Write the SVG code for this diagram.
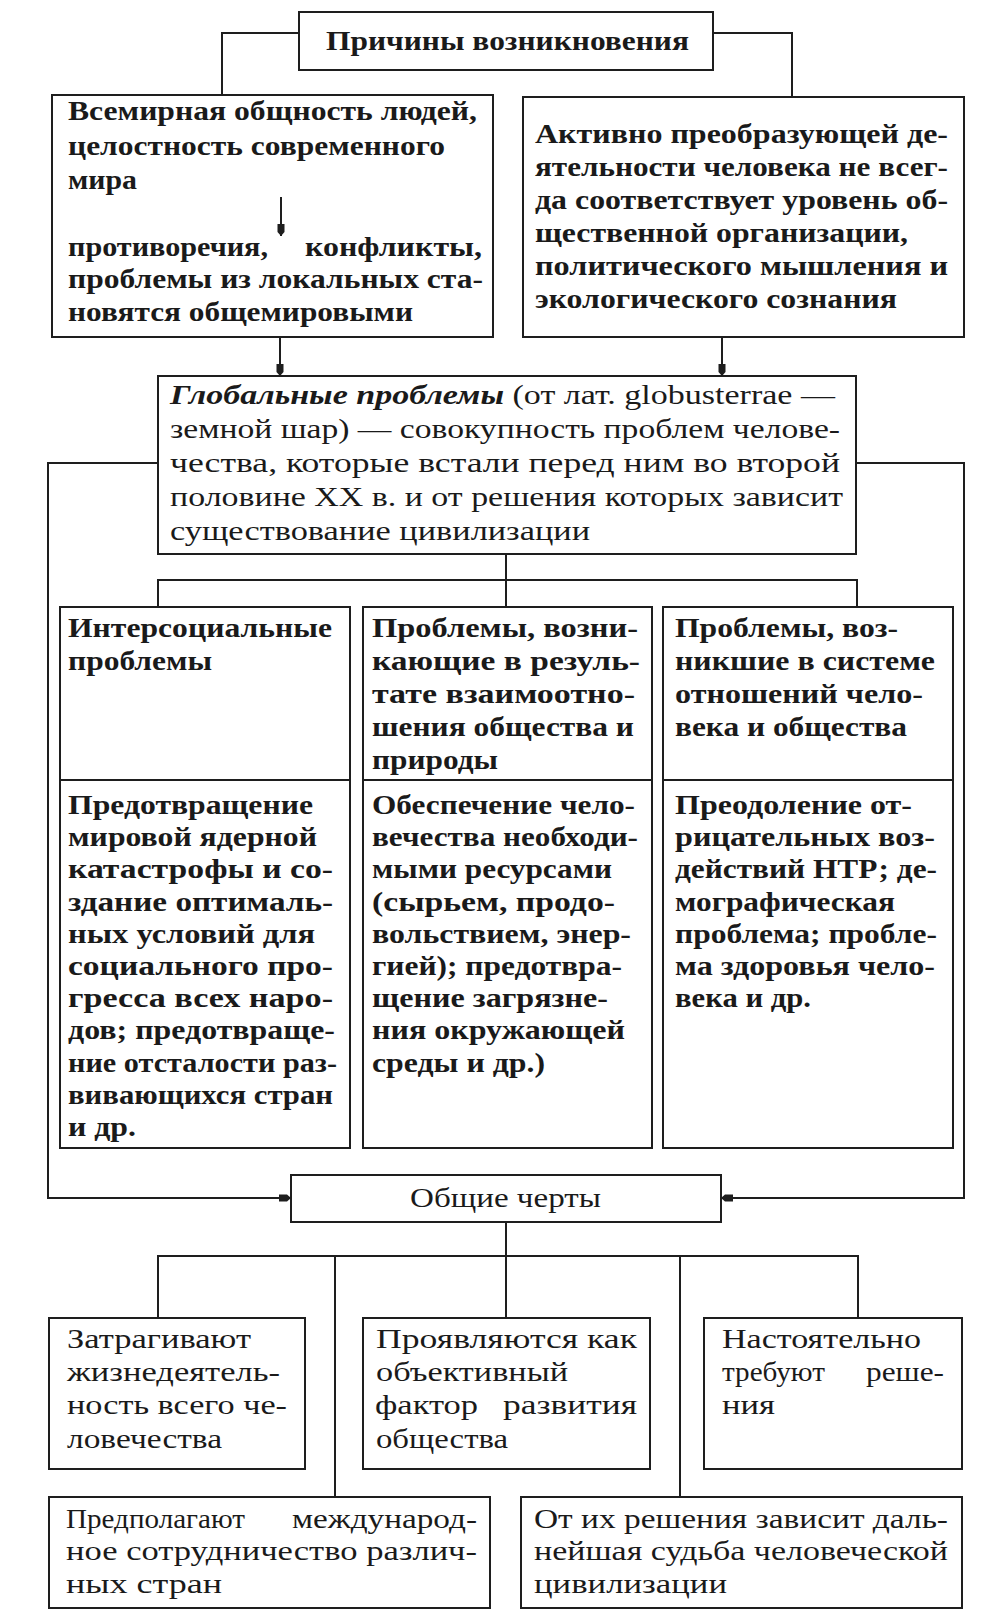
<svg xmlns="http://www.w3.org/2000/svg" width="995" height="1616" viewBox="0 0 995 1616">
<style>
.b{fill:#fff;stroke:#1e1e1e;stroke-width:2}
.c{fill:none;stroke:#1e1e1e;stroke-width:2}
.t{font-family:"Liberation Serif","Times New Roman",serif;font-size:27px;font-weight:bold;fill:#1a1a1a}
.r{font-family:"Liberation Serif","Times New Roman",serif;font-size:28px;fill:#1a1a1a}
</style>
<defs>
<marker id="ah" viewBox="0 0 12 10" refX="12" refY="5" markerWidth="12" markerHeight="10" markerUnits="userSpaceOnUse" orient="auto">
<path d="M0,1.5 L8,1.5 L12,5 L8,8.5 L0,8.5 z" fill="#1e1e1e"/>
</marker>
</defs>
<rect width="995" height="1616" fill="#fff"/>
<g id="title">
<rect class="b" x="299" y="12" width="414" height="58"/>
<text class="t" x="326" y="50" textLength="363" lengthAdjust="spacingAndGlyphs">Причины возникновения</text>
</g>
<g id="cause-left">
<rect class="b" x="52" y="95" width="441" height="242"/>
<text class="t" x="68" y="120" textLength="409" lengthAdjust="spacingAndGlyphs">Всемирная общность людей,</text>
<text class="t" x="68" y="155" textLength="377" lengthAdjust="spacingAndGlyphs">целостность современного</text>
<text class="t" x="68" y="189" textLength="69" lengthAdjust="spacingAndGlyphs">мира</text>
<text class="t" x="68" y="256" textLength="200" lengthAdjust="spacingAndGlyphs">противоречия,</text>
<text class="t" x="305" y="256" textLength="177" lengthAdjust="spacingAndGlyphs">конфликты,</text>
<text class="t" x="68" y="288" textLength="415" lengthAdjust="spacingAndGlyphs">проблемы из локальных ста-</text>
<text class="t" x="68" y="321" textLength="345" lengthAdjust="spacingAndGlyphs">новятся общемировыми</text>
</g>
<g id="cause-right">
<rect class="b" x="523" y="97" width="441" height="240"/>
<text class="t" x="535" y="143" textLength="413" lengthAdjust="spacingAndGlyphs">Активно преобразующей де-</text>
<text class="t" x="535" y="176" textLength="413" lengthAdjust="spacingAndGlyphs">ятельности человека не всег-</text>
<text class="t" x="535" y="209" textLength="413" lengthAdjust="spacingAndGlyphs">да соответствует уровень об-</text>
<text class="t" x="535" y="242" textLength="373" lengthAdjust="spacingAndGlyphs">щественной организации,</text>
<text class="t" x="535" y="275" textLength="413" lengthAdjust="spacingAndGlyphs">политического мышления и</text>
<text class="t" x="535" y="308" textLength="362" lengthAdjust="spacingAndGlyphs">экологического сознания</text>
</g>
<g id="global">
<rect class="b" x="158" y="376" width="698" height="178"/>
<text class="r" x="170" y="404" textLength="665" lengthAdjust="spacingAndGlyphs"><tspan font-weight="bold" font-style="italic">Глобальные проблемы</tspan> (от лат. globusterrae —</text>
<text class="r" x="170" y="438" textLength="670" lengthAdjust="spacingAndGlyphs">земной шар) — совокупность проблем челове-</text>
<text class="r" x="170" y="472" textLength="670" lengthAdjust="spacingAndGlyphs">чества, которые встали перед ним во второй</text>
<text class="r" x="170" y="506" textLength="673" lengthAdjust="spacingAndGlyphs">половине XX в. и от решения которых зависит</text>
<text class="r" x="170" y="540" textLength="420" lengthAdjust="spacingAndGlyphs">существование цивилизации</text>
</g>
<g id="col1">
<rect class="b" x="60" y="607" width="290" height="541"/>
<line class="c" x1="60" y1="780" x2="350" y2="780"/>
<text class="t" x="68" y="637" textLength="264" lengthAdjust="spacingAndGlyphs">Интерсоциальные</text>
<text class="t" x="68" y="670" textLength="144" lengthAdjust="spacingAndGlyphs">проблемы</text>
<text class="t" x="68" y="814" textLength="245" lengthAdjust="spacingAndGlyphs">Предотвращение</text>
<text class="t" x="68" y="846" textLength="249" lengthAdjust="spacingAndGlyphs">мировой ядерной</text>
<text class="t" x="68" y="878" textLength="265" lengthAdjust="spacingAndGlyphs">катастрофы и со-</text>
<text class="t" x="68" y="911" textLength="265" lengthAdjust="spacingAndGlyphs">здание оптималь-</text>
<text class="t" x="68" y="943" textLength="247" lengthAdjust="spacingAndGlyphs">ных условий для</text>
<text class="t" x="68" y="975" textLength="265" lengthAdjust="spacingAndGlyphs">социального про-</text>
<text class="t" x="68" y="1007" textLength="265" lengthAdjust="spacingAndGlyphs">гресса всех наро-</text>
<text class="t" x="68" y="1039" textLength="267" lengthAdjust="spacingAndGlyphs">дов; предотвраще-</text>
<text class="t" x="68" y="1072" textLength="269" lengthAdjust="spacingAndGlyphs">ние отсталости раз-</text>
<text class="t" x="68" y="1104" textLength="265" lengthAdjust="spacingAndGlyphs">вивающихся стран</text>
<text class="t" x="68" y="1136" textLength="68" lengthAdjust="spacingAndGlyphs">и др.</text>
</g>
<g id="col2">
<rect class="b" x="363" y="607" width="289" height="541"/>
<line class="c" x1="363" y1="780" x2="652" y2="780"/>
<text class="t" x="372" y="637" textLength="266" lengthAdjust="spacingAndGlyphs">Проблемы, возни-</text>
<text class="t" x="372" y="670" textLength="268" lengthAdjust="spacingAndGlyphs">кающие в резуль-</text>
<text class="t" x="372" y="703" textLength="263" lengthAdjust="spacingAndGlyphs">тате взаимоотно-</text>
<text class="t" x="372" y="736" textLength="262" lengthAdjust="spacingAndGlyphs">шения общества и</text>
<text class="t" x="372" y="769" textLength="126" lengthAdjust="spacingAndGlyphs">природы</text>
<text class="t" x="372" y="814" textLength="263" lengthAdjust="spacingAndGlyphs">Обеспечение чело-</text>
<text class="t" x="372" y="846" textLength="266" lengthAdjust="spacingAndGlyphs">вечества необходи-</text>
<text class="t" x="372" y="878" textLength="240" lengthAdjust="spacingAndGlyphs">мыми ресурсами</text>
<text class="t" x="372" y="911" textLength="243" lengthAdjust="spacingAndGlyphs">(сырьем, продо-</text>
<text class="t" x="372" y="943" textLength="259" lengthAdjust="spacingAndGlyphs">вольствием, энер-</text>
<text class="t" x="372" y="975" textLength="250" lengthAdjust="spacingAndGlyphs">гией); предотвра-</text>
<text class="t" x="372" y="1007" textLength="236" lengthAdjust="spacingAndGlyphs">щение загрязне-</text>
<text class="t" x="372" y="1039" textLength="253" lengthAdjust="spacingAndGlyphs">ния окружающей</text>
<text class="t" x="372" y="1072" textLength="173" lengthAdjust="spacingAndGlyphs">среды и др.)</text>
</g>
<g id="col3">
<rect class="b" x="663" y="607" width="290" height="541"/>
<line class="c" x1="663" y1="780" x2="953" y2="780"/>
<text class="t" x="675" y="637" textLength="223" lengthAdjust="spacingAndGlyphs">Проблемы, воз-</text>
<text class="t" x="675" y="670" textLength="260" lengthAdjust="spacingAndGlyphs">никшие в системе</text>
<text class="t" x="675" y="703" textLength="248" lengthAdjust="spacingAndGlyphs">отношений чело-</text>
<text class="t" x="675" y="736" textLength="232" lengthAdjust="spacingAndGlyphs">века и общества</text>
<text class="t" x="675" y="814" textLength="237" lengthAdjust="spacingAndGlyphs">Преодоление от-</text>
<text class="t" x="675" y="846" textLength="260" lengthAdjust="spacingAndGlyphs">рицательных воз-</text>
<text class="t" x="675" y="878" textLength="262" lengthAdjust="spacingAndGlyphs">действий НТР; де-</text>
<text class="t" x="675" y="911" textLength="220" lengthAdjust="spacingAndGlyphs">мографическая</text>
<text class="t" x="675" y="943" textLength="262" lengthAdjust="spacingAndGlyphs">проблема; пробле-</text>
<text class="t" x="675" y="975" textLength="260" lengthAdjust="spacingAndGlyphs">ма здоровья чело-</text>
<text class="t" x="675" y="1007" textLength="136" lengthAdjust="spacingAndGlyphs">века и др.</text>
</g>
<g id="common">
<rect class="b" x="291" y="1175" width="430" height="47"/>
<text class="r" x="410" y="1207" textLength="191" lengthAdjust="spacingAndGlyphs">Общие черты</text>
</g>
<g id="feat1">
<rect class="b" x="49" y="1318" width="256" height="151"/>
<text class="r" x="67" y="1348" textLength="184" lengthAdjust="spacingAndGlyphs">Затрагивают</text>
<text class="r" x="67" y="1381" textLength="213" lengthAdjust="spacingAndGlyphs">жизнедеятель-</text>
<text class="r" x="67" y="1414" textLength="220" lengthAdjust="spacingAndGlyphs">ность всего че-</text>
<text class="r" x="67" y="1448" textLength="155" lengthAdjust="spacingAndGlyphs">ловечества</text>
</g>
<g id="feat2">
<rect class="b" x="363" y="1318" width="287" height="151"/>
<text class="r" x="376" y="1348" textLength="261" lengthAdjust="spacingAndGlyphs">Проявляются как</text>
<text class="r" x="376" y="1381" textLength="192" lengthAdjust="spacingAndGlyphs">объективный</text>
<text class="r" x="375" y="1414" textLength="103" lengthAdjust="spacingAndGlyphs">фактор</text>
<text class="r" x="503" y="1414" textLength="134" lengthAdjust="spacingAndGlyphs">развития</text>
<text class="r" x="376" y="1448" textLength="132" lengthAdjust="spacingAndGlyphs">общества</text>
</g>
<g id="feat3">
<rect class="b" x="704" y="1318" width="258" height="151"/>
<text class="r" x="722" y="1348" textLength="199" lengthAdjust="spacingAndGlyphs">Настоятельно</text>
<text class="r" x="722" y="1381" textLength="103" lengthAdjust="spacingAndGlyphs">требуют</text>
<text class="r" x="866" y="1381" textLength="78" lengthAdjust="spacingAndGlyphs">реше-</text>
<text class="r" x="722" y="1414" textLength="53" lengthAdjust="spacingAndGlyphs">ния</text>
</g>
<g id="feat4">
<rect class="b" x="49" y="1497" width="441" height="111"/>
<text class="r" x="66" y="1528" textLength="179" lengthAdjust="spacingAndGlyphs">Предполагают</text>
<text class="r" x="292" y="1528" textLength="185" lengthAdjust="spacingAndGlyphs">международ-</text>
<text class="r" x="66" y="1560" textLength="411" lengthAdjust="spacingAndGlyphs">ное сотрудничество различ-</text>
<text class="r" x="66" y="1593" textLength="156" lengthAdjust="spacingAndGlyphs">ных стран</text>
</g>
<g id="feat5">
<rect class="b" x="521" y="1497" width="441" height="111"/>
<text class="r" x="534" y="1528" textLength="414" lengthAdjust="spacingAndGlyphs">От их решения зависит даль-</text>
<text class="r" x="534" y="1560" textLength="414" lengthAdjust="spacingAndGlyphs">нейшая судьба человеческой</text>
<text class="r" x="534" y="1593" textLength="193" lengthAdjust="spacingAndGlyphs">цивилизации</text>
</g>
<g id="connectors">
<polyline class="c" points="299,33 222,33 222,95"/>
<polyline class="c" points="713,33 792,33 792,97"/>
<line class="c" x1="281" y1="197" x2="281" y2="236" marker-end="url(#ah)"/>
<line class="c" x1="280" y1="337" x2="280" y2="376" marker-end="url(#ah)"/>
<line class="c" x1="722" y1="337" x2="722" y2="376" marker-end="url(#ah)"/>
<polyline class="c" points="158,463 48,463 48,1198 291,1198" marker-end="url(#ah)"/>
<polyline class="c" points="856,463 964,463 964,1198 721,1198" marker-end="url(#ah)"/>
<line class="c" x1="506" y1="554" x2="506" y2="607"/>
<polyline class="c" points="158,607 158,580 857,580 857,607"/>
<line class="c" x1="506" y1="1222" x2="506" y2="1318"/>
<polyline class="c" points="158,1318 158,1256 858,1256 858,1318"/>
<line class="c" x1="335" y1="1256" x2="335" y2="1497"/>
<line class="c" x1="680" y1="1256" x2="680" y2="1497"/>
</g>
</svg>
